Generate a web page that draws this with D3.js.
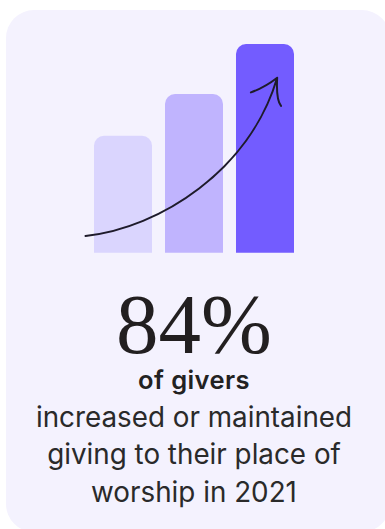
<!DOCTYPE html>
<html>
<head>
<meta charset="utf-8">
<script src="https://cdn.jsdelivr.net/npm/d3@7"></script>
<style>
  html, body { margin: 0; padding: 0; background: #ffffff; }
  svg { display: block; }
</style>
</head>
<body>
<svg id="chart" width="385" height="529"></svg>
<script>
// Bars: three growing stages of giving
const categories = ["stage1", "stage2", "stage3"];
const values = [56, 76, 100];
const barColors = ["#dad5fe", "#c0b4fe", "#735cff"];

// Headline and caption
const headline = "84%";
const subhead = "of givers";
const captionLines = [
  "increased or maintained",
  "giving to their place of",
  "worship in 2021"
];

// Trend arrow, in data units (x: continuous category position, y: value)
const arrowCurve = [[-0.12, 8], [0.93, 11.8], [2.197, 39.6], [2.58, 83.8]];
const arrowBarbLeft = [[2.21, 76.8], [2.408, 79.2], [2.58, 83.8]];
const arrowBarbRight = [[2.634, 70.3], [2.563, 73.4], [2.58, 83.8]];

const svg = d3.select("#chart");

// Card background
svg.append("rect")
  .attr("x", 6).attr("y", 10)
  .attr("width", 384).attr("height", 522)
  .attr("rx", 28).attr("ry", 28)
  .attr("fill", "#f4f2fe");

const x = d3.scaleBand()
  .domain(categories)
  .range([94, 294])
  .paddingInner(0.183)
  .paddingOuter(0);

const y = d3.scaleLinear()
  .domain([0, 100])
  .range([252.7, 44]);

// Continuous position across the band scale for the arrow
const xc = d3.scaleLinear()
  .domain([0, categories.length])
  .range([x(categories[0]), x(categories[0]) + x.step() * categories.length]);

const r = 10;
function topRounded(x0, y0, w, h) {
  const p = d3.path();
  p.moveTo(x0, y0 + h);
  p.lineTo(x0, y0 + r);
  p.arcTo(x0, y0, x0 + r, y0, r);
  p.lineTo(x0 + w - r, y0);
  p.arcTo(x0 + w, y0, x0 + w, y0 + r, r);
  p.lineTo(x0 + w, y0 + h);
  p.closePath();
  return p.toString();
}

svg.append("g")
  .selectAll("path")
  .data(values)
  .join("path")
  .attr("d", (d, i) => topRounded(x(categories[i]), y(d), x.bandwidth(), y(0) - y(d)))
  .attr("fill", (d, i) => barColors[i]);

// Arrow
const px = p => [xc(p[0]), y(p[1])];
const c = arrowCurve.map(px);
const arrow = d3.path();
arrow.moveTo(...c[0]);
arrow.bezierCurveTo(...c[1], ...c[2], ...c[3]);
const bl = arrowBarbLeft.map(px);
arrow.moveTo(...bl[0]);
arrow.quadraticCurveTo(...bl[1], ...bl[2]);
const br = arrowBarbRight.map(px);
arrow.moveTo(...br[0]);
arrow.quadraticCurveTo(...br[1], ...br[2]);

svg.append("path")
  .attr("d", arrow.toString())
  .attr("fill", "none")
  .attr("stroke", "#1e1b2b")
  .attr("stroke-width", 2)
  .attr("stroke-linecap", "round")
  .attr("stroke-linejoin", "round");

// Text block
const cx = 194;
svg.append("text")
  .attr("x", cx).attr("y", 353)
  .attr("text-anchor", "middle")
  .attr("font-family", "'Liberation Serif', 'DejaVu Serif', serif")
  .attr("font-size", 85)
  .attr("fill", "#221f20")
  .text(headline);

svg.append("text")
  .attr("x", cx).attr("y", 389)
  .attr("text-anchor", "middle")
  .attr("font-family", "Inter, 'Noto Sans', sans-serif")
  .attr("font-weight", 600)
  .attr("font-size", 25.5)
  .attr("letter-spacing", 0.4)
  .attr("fill", "#222222")
  .text(subhead);

svg.append("g")
  .selectAll("text")
  .data(captionLines)
  .join("text")
  .attr("x", cx)
  .attr("y", (d, i) => 427 + i * 37.4)
  .attr("text-anchor", "middle")
  .attr("font-family", "Inter, 'Noto Sans', sans-serif")
  .attr("font-weight", 400)
  .attr("font-size", 27.8)
  .attr("fill", "#2a2a2a")
  .text(d => d);
</script>
</body>
</html>
